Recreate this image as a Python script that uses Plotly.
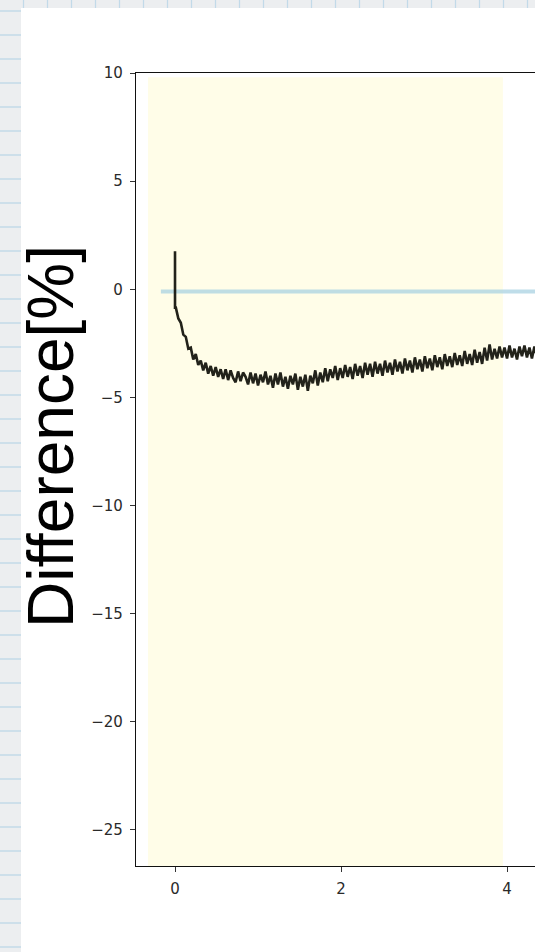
import plotly.graph_objects as go

# ---------------- data ----------------
spike_x = [0.0, 0.0]
spike_y = [1.76, -0.85]

x_start = 0.01
x_step = 0.03
diff_values = [
    -0.85, -1.35, -1.55, -2.1, -2.2, -2.75, -2.7, -3.25, -3.0, -3.5,
    -3.3, -3.75, -3.4, -3.9, -3.55, -4.0, -3.6, -4.05, -3.7, -4.15,
    -3.7, -4.2, -3.75, -4.1, -4.3, -3.8, -4.25, -3.85, -4.05, -4.4,
    -3.85, -4.35, -3.9, -4.45, -3.95, -4.3, -3.8, -4.4, -4.0, -4.55,
    -3.9, -4.4, -3.85, -4.5, -4.05, -4.6, -4.0, -4.4, -3.9, -4.65,
    -4.05, -4.5, -3.95, -4.7, -4.0, -4.35, -3.75, -4.45, -3.85, -4.3,
    -3.65, -4.25, -3.7, -4.1, -3.55, -4.2, -3.65, -4.1, -3.5, -4.05,
    -3.6, -4.15, -3.45, -4.0, -3.55, -4.1, -3.4, -3.95, -3.45, -4.05,
    -3.35, -3.9, -3.45, -4.0, -3.3, -3.85, -3.4, -3.95, -3.25, -3.8,
    -3.35, -3.9, -3.2, -3.75, -3.3, -3.85, -3.15, -3.7, -3.25, -3.8,
    -3.1, -3.65, -3.2, -3.75, -3.05, -3.6, -3.15, -3.7, -3.0, -3.55,
    -3.1, -3.6, -2.95, -3.5, -3.05, -3.55, -2.85, -3.45, -3.0, -3.5,
    -2.8, -3.4, -2.9, -3.45, -2.7, -3.3, -2.55, -3.25, -2.75, -3.2,
    -2.65, -3.15, -2.7, -3.2, -2.6, -3.15, -2.75, -3.25, -2.65, -3.1,
    -2.6, -3.15, -2.7, -3.2, -2.65, -3.1, -3.25, -2.75, -3.1,
]
diff_x = [x_start + x_step * i for i in range(len(diff_values))]

line_x = spike_x + diff_x
line_y = spike_y + diff_values

baseline_x = [-0.17, 4.4]
baseline_y = [-0.1, -0.1]

span_x = [-0.325, 3.95]
span_y = [-26.7, 9.8]

x_ticks = [0, 2, 4]
y_ticks = [10, 5, 0, -5, -10, -15, -20, -25]
y_ticktext = ["10", "5", "0", "\u22125", "\u221210", "\u221215", "\u221220", "\u221225"]

x_range = [-0.47, 4.337]
y_range = [-26.67, 10.0]

# ---------------- layout helpers ----------------
W, H = 535, 952
ML, MR, MT, MB = 136, 0, 73, 86
PW = W - ML - MR
PH = H - MT - MB


def px2paper_x(px):
    return (px - ML) / PW


def px2paper_y(py):
    return (H - MB - py) / PH


shapes = []
# grid-paper background lines (visible in the margins around the white card)
grid_col = "rgba(190,215,232,0.9)"
for gy in range(11, 952, 24):
    shapes.append(dict(type="line", xref="paper", yref="paper",
                       x0=px2paper_x(0), x1=px2paper_x(21),
                       y0=px2paper_y(gy), y1=px2paper_y(gy),
                       line=dict(color=grid_col, width=1.5), layer="below"))
for gx in range(23, 535, 24):
    shapes.append(dict(type="line", xref="paper", yref="paper",
                       x0=px2paper_x(gx + 0.5), x1=px2paper_x(gx + 0.5),
                       y0=px2paper_y(0), y1=px2paper_y(8),
                       line=dict(color=grid_col, width=1.2), layer="below"))
# white card
shapes.append(dict(type="rect", xref="paper", yref="paper",
                   x0=px2paper_x(21), x1=px2paper_x(545),
                   y0=px2paper_y(8), y1=px2paper_y(960),
                   fillcolor="white", line=dict(width=0), layer="below"))
# yellow span
shapes.append(dict(type="rect", xref="x", yref="y",
                   x0=span_x[0], x1=span_x[1], y0=span_y[0], y1=span_y[1],
                   fillcolor="#fffde8", line=dict(width=0), layer="below"))

fig = go.Figure()
fig.add_trace(go.Scatter(x=baseline_x, y=baseline_y, mode="lines",
                         line=dict(color="rgba(170,210,225,0.75)", width=4),
                         hoverinfo="skip", showlegend=False))
fig.add_trace(go.Scatter(x=line_x, y=line_y, mode="lines",
                         line=dict(color="#22221a", width=2.6),
                         showlegend=False))

tick_font = dict(family="DejaVu Sans", size=15, color="#2a2a2a")

fig.update_layout(
    width=W, height=H, autosize=False,
    margin=dict(l=ML, r=MR, t=MT, b=MB, pad=0),
    paper_bgcolor="#eceef0",
    plot_bgcolor="white",
    shapes=shapes,
    showlegend=False,
    xaxis=dict(range=x_range, tickmode="array", tickvals=x_ticks,
               ticktext=[str(v) for v in x_ticks],
               ticks="outside", ticklen=5, tickwidth=1.2, tickcolor="#333",
               showline=True, linecolor="#111", linewidth=1.3, mirror=True,
               showgrid=False, zeroline=False, tickfont=tick_font,
               ticklabelstandoff=4),
    yaxis=dict(range=y_range, tickmode="array", tickvals=y_ticks,
               ticktext=y_ticktext,
               ticks="outside", ticklen=5, tickwidth=1.2, tickcolor="#333",
               showline=True, linecolor="#111", linewidth=1.3, mirror=False,
               showgrid=False, zeroline=False, tickfont=tick_font,
               ticklabelstandoff=4),
    annotations=[dict(text="Difference[%]", xref="paper", yref="paper",
                      x=px2paper_x(51), y=px2paper_y(437),
                      xanchor="center", yanchor="middle", textangle=-90,
                      showarrow=False,
                      font=dict(family="Liberation Sans, Arial", size=64,
                                color="black"))],
)

fig.write_html("out.html")
